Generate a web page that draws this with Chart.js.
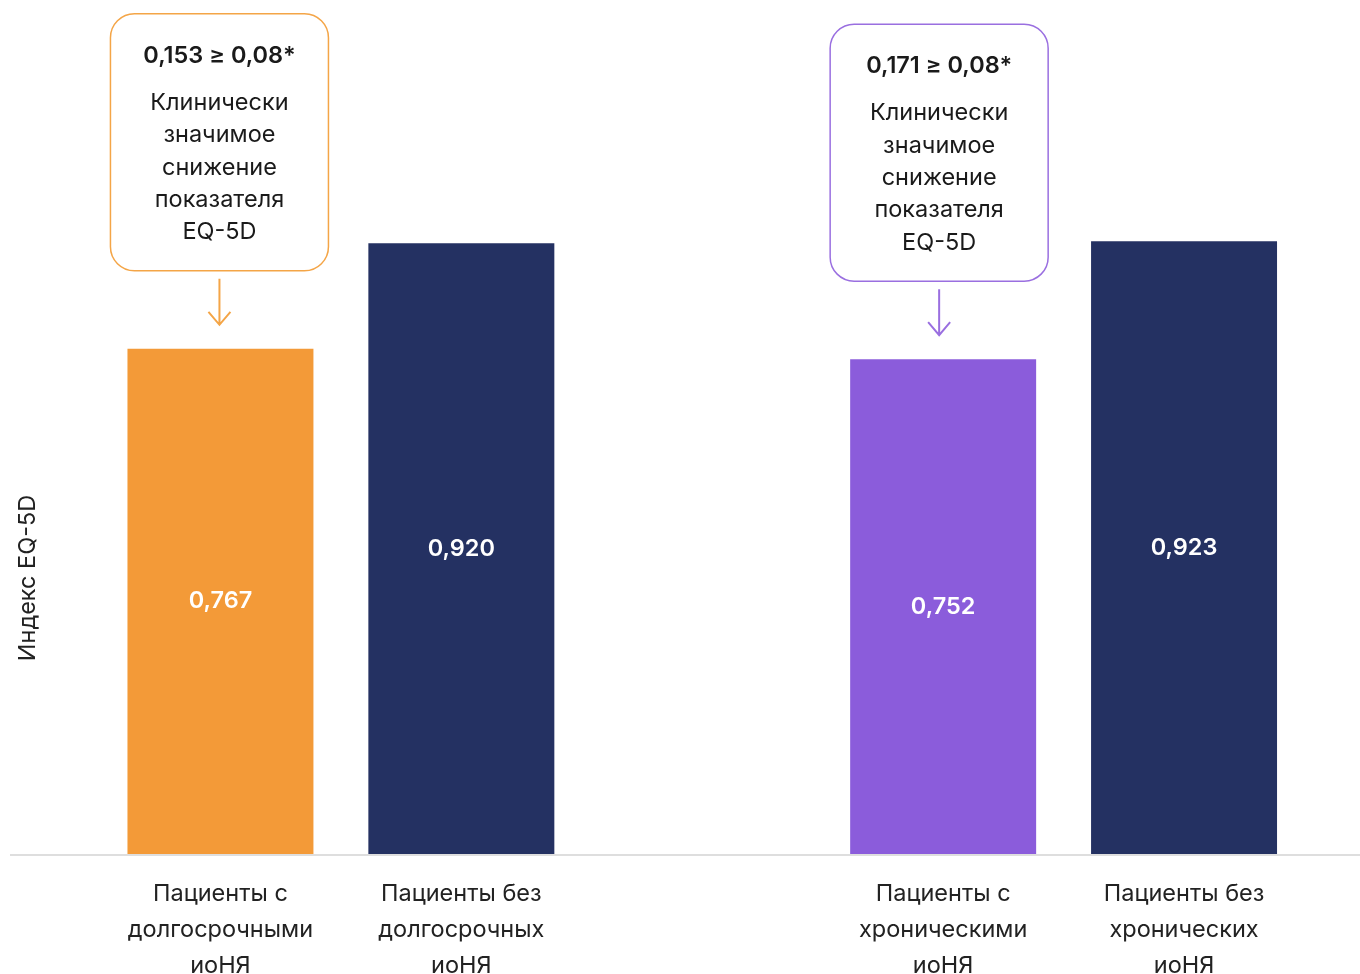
<!DOCTYPE html>
<html><head><meta charset="utf-8">
<script src="https://cdn.jsdelivr.net/npm/chart.js@4/dist/chart.umd.min.js"></script>
<style>html,body{margin:0;padding:0;background:#fff}#wrap{width:1360px;height:974px}</style>
</head><body><div id="wrap"><canvas id="c" width="1360" height="974"></canvas></div>
<script>
// ---- data ----
const categories = [
  ['Пациенты с','долгосрочными','иоНЯ'],
  ['Пациенты без','долгосрочных','иоНЯ'],
  '',
  ['Пациенты с','хроническими','иоНЯ'],
  ['Пациенты без','хронических','иоНЯ']
];
const values = [0.767, 0.920, null, 0.752, 0.923];
const valueLabels = ['0,767', '0,920', '', '0,752', '0,923'];
const calloutBars = [0, 3];        // bar with the callout
const calloutRefBars = [1, 4];     // comparison bar
const threshold = 0.08;
const calloutLines = ['Клинически', 'значимое', 'снижение', 'показателя', 'EQ-5D'];
const yTitle = 'Индекс EQ-5D';

// ---- styles ----
const barColors = ['#F39A38', '#243162', 'rgba(0,0,0,0)', '#8B5CDB', '#243162'];
const calloutColors = ['#F4A547', '#9A6FE0'];
const FONT = 'Inter, "Noto Sans", sans-serif';
const FS = 23.5;
const fmt = (v, d) => v.toFixed(d).replace('.', ',');

const overlay = {
  id: 'overlay',
  beforeDatasetsDraw(chart) {
    const ctx = chart.ctx;
    const y = chart.chartArea.bottom;
    ctx.save();
    ctx.strokeStyle = '#DEDEDE';
    ctx.lineWidth = 2;
    ctx.beginPath();
    ctx.moveTo(10, y + 1);
    ctx.lineTo(chart.width, y + 1);
    ctx.stroke();
    ctx.restore();
  },
  afterDatasetsDraw(chart) {
    const ctx = chart.ctx;
    const meta = chart.getDatasetMeta(0);
    const bottom = chart.chartArea.bottom;
    ctx.save();
    // value labels
    ctx.fillStyle = '#FFFFFF';
    ctx.font = '600 ' + FS + 'px ' + FONT;
    ctx.textAlign = 'center';
    ctx.textBaseline = 'middle';
    meta.data.forEach((el, i) => {
      if (values[i] == null) return;
      ctx.fillText(valueLabels[i], el.x, (el.y + bottom) / 2);
    });
    // callouts
    calloutBars.forEach((bi, k) => {
      const el = meta.data[bi];
      const col = calloutColors[k];
      const x = el.x, top = el.y;
      const w = 218, h = 257;
      const bx = x - w / 2 - 1 - k * 3, by = top - 78 - h;
      ctx.beginPath();
      ctx.roundRect(bx, by, w, h, 24);
      ctx.fillStyle = '#fff';
      ctx.fill();
      ctx.strokeStyle = col;
      ctx.lineWidth = 1.5;
      ctx.stroke();
      const diff = values[calloutRefBars[k]] - values[bi];
      ctx.fillStyle = '#1a1a1a';
      ctx.textAlign = 'center';
      ctx.textBaseline = 'middle';
      ctx.font = '600 ' + FS + 'px ' + FONT;
      ctx.fillText(fmt(diff, 3) + ' ≥ ' + fmt(threshold, 2) + '*', bx + w / 2, by + 42);
      ctx.font = FS + 'px ' + FONT;
      calloutLines.forEach((t, j) => ctx.fillText(t, bx + w / 2, by + 89 + j * 32.4));
      // arrow
      const ax = bx + w / 2;
      ctx.strokeStyle = col;
      ctx.lineWidth = 2;
      ctx.beginPath();
      ctx.moveTo(ax, top - 70);
      ctx.lineTo(ax, top - 24);
      ctx.moveTo(ax - 11, top - 37);
      ctx.lineTo(ax, top - 24);
      ctx.lineTo(ax + 11, top - 37);
      ctx.stroke();
    });
    // y title
    ctx.translate(28, 578);
    ctx.rotate(-Math.PI / 2);
    ctx.fillStyle = '#222';
    ctx.font = FS + 'px ' + FONT;
    ctx.textAlign = 'center';
    ctx.textBaseline = 'middle';
    ctx.fillText(yTitle, 0, 0);
    ctx.restore();
  }
};

new Chart(document.getElementById('c'), {
  type: 'bar',
  data: {
    labels: categories,
    datasets: [{
      data: values,
      backgroundColor: barColors,
      barPercentage: 0.772,
      categoryPercentage: 1.0,
      borderWidth: 0
    }]
  },
  options: {
    responsive: false,
    animation: false,
    devicePixelRatio: 1,
    layout: { padding: { left: 100, right: 55.5, top: 188, bottom: 0 } },
    plugins: { legend: { display: false }, tooltip: { enabled: false } },
    scales: {
      x: {
        grid: { display: false },
        border: { display: false },
        ticks: {
          color: '#222',
          font: { family: FONT, size: FS, lineHeight: 36 / FS },
          padding: 14,
          maxRotation: 0,
          autoSkip: false
        },
        afterFit(s) { s.height = 120; }
      },
      y: { display: false, min: 0.035, max: 1.0 }
    }
  },
  plugins: [overlay]
});
</script></body></html>
